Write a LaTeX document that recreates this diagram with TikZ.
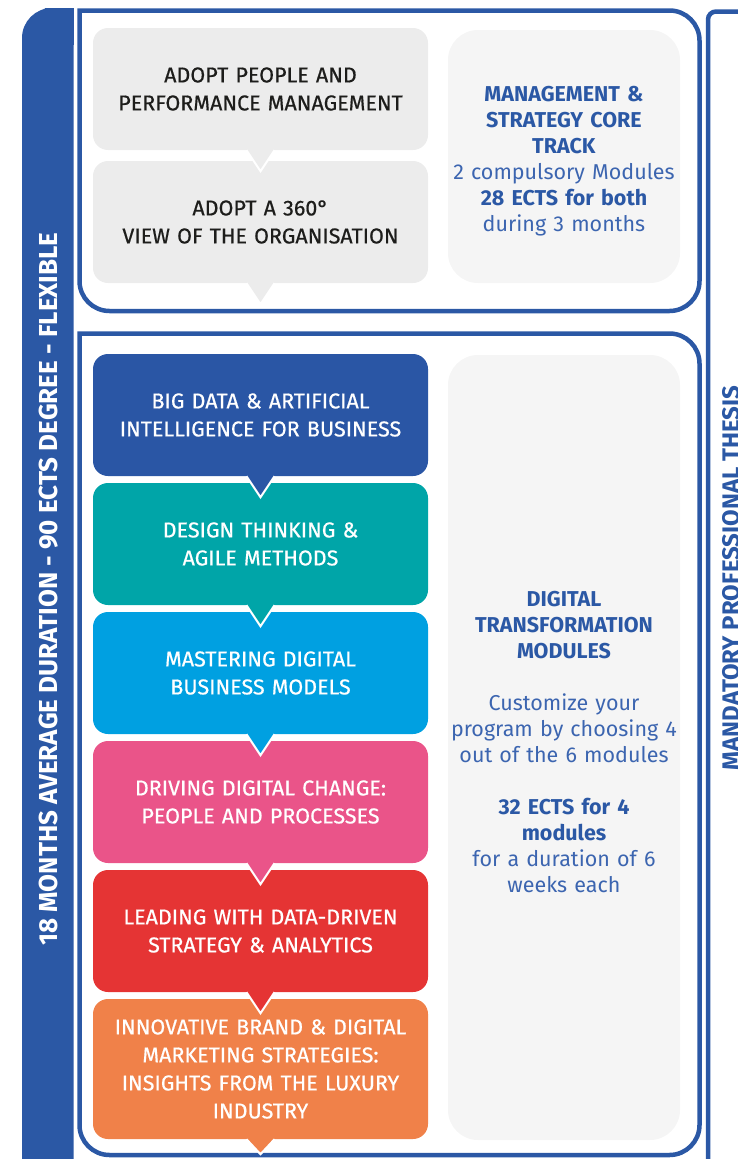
\documentclass[tikz,border=0pt]{standalone}
\usepackage{fontspec}
\setmainfont{Fira Sans}
\newfontfamily\modfont{Fira Sans}[FakeBold=0.6]
\usepackage{xcolor}
\usepackage{tikz}
\usetikzlibrary{calc}
\definecolor{brand}{HTML}{2B58A5}
\definecolor{softbrand}{HTML}{3C65B0}
\definecolor{ink}{HTML}{1D1D1B}
\definecolor{coregray}{HTML}{ECECEC}
\definecolor{panelgray}{HTML}{F5F5F5}
\definecolor{modblue}{HTML}{2A56A5}
\definecolor{modteal}{HTML}{00A5A8}
\definecolor{modsky}{HTML}{00A0E1}
\definecolor{modpink}{HTML}{EA5489}
\definecolor{modred}{HTML}{E53434}
\definecolor{modorange}{HTML}{F08149}
\tikzset{
  trackframe/.style={draw=brand, line width=4.5pt, line cap=rect, rounded corners=30pt},
  module/.style={rounded corners=15pt, minimum width=335pt, minimum height=122pt, text width=325pt,
    align=center, inner sep=0pt, text=white, font=\modfont\fontsize{21.5}{28}\selectfont},
  core/.style={module, fill=coregray, text=ink},
  panel/.style={fill=panelgray, rounded corners=30pt, minimum width=232pt, inner sep=0pt},
  paneltext/.style={text width=232pt, align=center, inner sep=0pt, text=softbrand, font=\fontsize{21.5}{26}\selectfont},
  pointer/.style={draw=white, line width=2pt},
  sidelab/.style={rotate=90, anchor=base, font=\fontsize{26}{30}\selectfont\bfseries},
}
\newcommand{\hl}[1]{\textcolor{brand}{\textbf{#1}}}
\begin{document}
\begin{tikzpicture}[x=1pt, y=-1pt]
\useasboundingbox (0,0) rectangle (737,1159);

% duration bar on the left
\fill[brand, rounded corners=30pt] (22,1200) -- (22,8) -- (73.5,8) -- (73.5,1200) -- cycle;
\fill[brand] (45,8) rectangle (73.5,45);
\node[sidelab, text=white] (dur) at (57,589) {18 MONTHS AVERAGE DURATION - 90 ECTS DEGREE - FLEXIBLE};

% frames
\draw[trackframe] (79.5,10.5) -- (699.5,10.5) -- (699.5,311) -- (79.5,311) -- (79.5,10.5);
\draw[trackframe] (79.5,333.5) -- (699.5,333.5) -- (699.5,1155) -- (79.5,1155) -- (79.5,333.5);
\draw[trackframe, rounded corners=8pt] (708,1200) -- (708,11.5) -- (780,11.5);
\node[sidelab, text=brand, font=\fontsize{24}{28}\selectfont\bfseries] (thesis) at (739,578) {MANDATORY PROFESSIONAL THESIS};

% core track
\node[core] (c1) at (260.5,89) {ADOPT PEOPLE AND\\PERFORMANCE MANAGEMENT};
\node[core] (c2) at (260.5,222) {ADOPT A 360°\\VIEW OF THE ORGANISATION};
\node[panel, minimum height=253pt] (core) at (564,156.5) {};
\node[paneltext] (coretext) at (564,161.5) {\hl{MANAGEMENT \&}\\\hl{STRATEGY CORE}\\\hl{TRACK}\\2 compulsory Modules\\\hl{28 ECTS for both}\\during 3 months};

% digital transformation modules
\node[module, fill=modblue] (m1) at (260.5,415) {BIG DATA \& ARTIFICIAL\\INTELLIGENCE FOR BUSINESS};
\node[module, fill=modteal] (m2) at (260.5,544) {DESIGN THINKING \&\\AGILE METHODS};
\node[module, fill=modsky] (m3) at (260.5,673) {MASTERING DIGITAL\\BUSINESS MODELS};
\node[module, fill=modpink] (m4) at (260.5,802) {DRIVING DIGITAL CHANGE:\\PEOPLE AND PROCESSES};
\node[module, fill=modred] (m5) at (260.5,931) {LEADING WITH DATA-DRIVEN\\STRATEGY \& ANALYTICS};
\node[module, fill=modorange, minimum height=140pt] (m6) at (260.5,1069) {INNOVATIVE BRAND \& DIGITAL\\MARKETING STRATEGIES:\\INSIGHTS FROM THE LUXURY\\INDUSTRY};
\node[panel, minimum height=785pt] (digital) at (564,747.5) {};
\node[paneltext] (digitaltext) at (564,741.5) {\hl{DIGITAL}\\\hl{TRANSFORMATION}\\\hl{MODULES}\\[26pt]Customize your\\program by choosing 4\\out of the 6 modules\\[26pt]\hl{32 ECTS for 4}\\\hl{modules}\\for a duration of 6\\weeks each};

% pointers
\filldraw[pointer, fill=coregray] ($(c1.south)+(-14,0)$) -- ($(c1.south)+(0,21)$) -- ($(c1.south)+(14,0)$);
\filldraw[pointer, fill=coregray] ($(c2.south)+(-14,0)$) -- ($(c2.south)+(0,21)$) -- ($(c2.south)+(14,0)$);
\filldraw[pointer, fill=modblue] ($(m1.south)+(-14,0)$) -- ($(m1.south)+(0,21)$) -- ($(m1.south)+(14,0)$);
\filldraw[pointer, fill=modteal] ($(m2.south)+(-14,0)$) -- ($(m2.south)+(0,21)$) -- ($(m2.south)+(14,0)$);
\filldraw[pointer, fill=modsky] ($(m3.south)+(-14,0)$) -- ($(m3.south)+(0,21)$) -- ($(m3.south)+(14,0)$);
\filldraw[pointer, fill=modpink] ($(m4.south)+(-14,0)$) -- ($(m4.south)+(0,21)$) -- ($(m4.south)+(14,0)$);
\filldraw[pointer, fill=modred] ($(m5.south)+(-14,0)$) -- ($(m5.south)+(0,21)$) -- ($(m5.south)+(14,0)$);
\filldraw[pointer, fill=modorange] ($(m6.south)+(-14,0)$) -- ($(m6.south)+(0,15)$) -- ($(m6.south)+(14,0)$);
\end{tikzpicture}
\end{document}
